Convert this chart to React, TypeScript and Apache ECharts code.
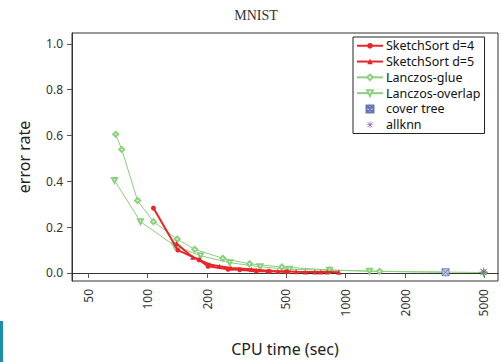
import React, { useEffect, useRef } from "react";
import * as echarts from "echarts";

const xTicks = [50, 100, 200, 500, 1000, 2000, 5000];
const yTicks = [0, 0.2, 0.4, 0.6, 0.8, 1.0];

const sketch4Time = [107, 142, 182, 202, 255, 292, 354, 413, 501];
const sketch4Err = [0.283, 0.1, 0.057, 0.029, 0.016, 0.014, 0.008, 0.007, 0.005];

const sketch5Time = [140, 169, 206, 231, 264, 334, 405, 455, 511, 563, 626, 700, 750, 808, 925];
const sketch5Err = [0.129, 0.069, 0.037, 0.029, 0.022, 0.016, 0.01, 0.007, 0.006, 0.005, 0.004, 0.004, 0.004, 0.004, 0.003];

const glueTime = [69, 74, 89, 107, 141, 173, 240, 327, 477, 830, 1486, 5000];
const glueErr = [0.605, 0.539, 0.316, 0.224, 0.148, 0.103, 0.064, 0.04, 0.026, 0.013, 0.007, 0.002];

const overlapTime = [68, 92, 137, 185, 260, 370, 520, 830, 1320, 3200];
const overlapErr = [0.404, 0.224, 0.119, 0.075, 0.045, 0.027, 0.016, 0.012, 0.008, 0.003];

const coverTime = [3200];
const coverErr = [0.003];

const allknnTime = [4980];
const allknnErr = [0.004];

const seriesNames = ["SketchSort d=4", "SketchSort d=5", "Lanczos-glue", "Lanczos-overlap", "cover tree", "allknn"];

const zip = (a: number[], b: number[]) => a.map((v, i) => [v, b[i]]);

const RED = "#e8262a";
const GREEN = "#8ccf7c";

const ASTERISK =
  "path://M4.55,0L5.45,0L5.45,10L4.55,10Z M0,4.55L10,4.55L10,5.45L0,5.45Z " +
  "M1.82,1.18L8.82,8.18L8.18,8.82L1.18,1.82Z M1.18,8.18L8.18,1.18L8.82,1.82L1.82,8.82Z";

export default function App() {
  const ref = useRef<HTMLDivElement>(null);
  useEffect(() => {
    document.body.style.margin = "0";
    const chart = echarts.init(ref.current!, null, { renderer: "svg" });
    const option: any = {
      animation: false,
      backgroundColor: "#fff",
      grid: {
        left: 72,
        right: 3,
        top: 33,
        bottom: 78,
        show: true,
        borderColor: "#333",
        borderWidth: 1,
        backgroundColor: "transparent",
      },
      graphic: [
        {
          type: "text",
          x: 256,
          y: 15,
          style: {
            text: "MNIST",
            font: "14px 'Liberation Serif'",
            fill: "#333",
            textAlign: "center",
            textVerticalAlign: "middle",
          },
        },
        {
          type: "rect",
          shape: { x: 0, y: 321, width: 3, height: 41 },
          style: { fill: "#1a90aa" },
        },
      ],
      legend: {
        data: seriesNames,
        orient: "vertical",
        left: 353,
        top: 37,
        backgroundColor: "#fff",
        borderColor: "#222",
        borderWidth: 1,
        borderRadius: 0,
        padding: [2, 4, 2, 3],
        itemGap: 2.3,
        itemWidth: 26,
        itemHeight: 7,
        textStyle: {
          fontFamily: "Noto Sans",
          fontSize: 12.5,
          color: "#111",
          lineHeight: 13.5,
          padding: [0, 0, 0, -2],
        },
      },
      xAxis: {
        type: "log",
        logBase: 10,
        min: 41.5,
        max: 5890,
        name: "CPU time (sec)",
        nameLocation: "middle",
        nameGap: 60,
        nameTextStyle: { fontFamily: "Noto Sans", fontSize: 16, color: "#222" },
        axisLine: { show: true, lineStyle: { color: "#333" } },
        axisTick: { show: true, length: 5, lineStyle: { color: "#555" }, customValues: xTicks },
        axisLabel: {
          customValues: xTicks,
          rotate: 90,
          margin: 8,
          fontFamily: "Noto Sans",
          fontSize: 12,
          color: "#333",
          formatter: (v: number) => String(Math.round(v)),
        },
        splitLine: { show: false },
        minorTick: { show: false },
      },
      yAxis: {
        type: "value",
        min: -0.035,
        max: 1.047,
        name: "error rate",
        nameLocation: "middle",
        nameGap: 40,
        nameTextStyle: { fontFamily: "Noto Sans", fontSize: 16, color: "#222" },
        axisLine: { show: true, lineStyle: { color: "#333" } },
        axisTick: { show: true, length: 5, lineStyle: { color: "#555" }, customValues: yTicks },
        axisLabel: {
          customValues: yTicks,
          margin: 9,
          fontFamily: "Noto Sans",
          fontSize: 12,
          color: "#333",
          formatter: (v: number) => v.toFixed(1),
        },
        splitLine: { show: false },
      },
      series: [
        {
          name: "Lanczos-glue",
          type: "line",
          data: zip(glueTime, glueErr),
          symbol: "emptyDiamond",
          symbolSize: 5,
          color: GREEN,
          lineStyle: { width: 1, color: GREEN },
          itemStyle: { color: GREEN, borderWidth: 1 },
          z: 2,
        },
        {
          name: "Lanczos-overlap",
          type: "line",
          data: zip(overlapTime, overlapErr),
          symbol: "emptyTriangle",
          symbolRotate: 180,
          symbolSize: 5,
          color: GREEN,
          lineStyle: { width: 1, color: GREEN },
          itemStyle: { color: GREEN, borderWidth: 1 },
          z: 2,
        },
        {
          name: "SketchSort d=4",
          type: "line",
          data: zip(sketch4Time, sketch4Err),
          symbol: "circle",
          symbolSize: 5,
          color: RED,
          lineStyle: { width: 2, color: RED },
          itemStyle: { color: RED },
          z: 3,
        },
        {
          name: "SketchSort d=5",
          type: "line",
          data: zip(sketch5Time, sketch5Err),
          symbol: "triangle",
          symbolSize: 5,
          color: RED,
          lineStyle: { width: 2, color: RED },
          itemStyle: { color: RED },
          z: 3,
        },
        {
          name: "cover tree",
          type: "scatter",
          data: zip(coverTime, coverErr),
          symbol: "path://M0,0L8,0L8,8L0,8Z M0,0L8,8 M0,8L8,0",
          symbolSize: 7,
          color: "#5a68b0",
          itemStyle: { color: "#c4cbec", borderColor: "#4a58a8", borderWidth: 0.8 },
          z: 4,
        },
        {
          name: "allknn",
          type: "scatter",
          data: zip(allknnTime, allknnErr),
          symbol: ASTERISK,
          symbolSize: 9,
          color: "#6b4fa0",
          itemStyle: { color: "#6b4fa0", borderWidth: 0 },
          z: 4,
        },
      ],
    };
    chart.setOption(option);
    return () => chart.dispose();
  }, []);
  return <div ref={ref} style={{ width: 501, height: 362 }} />;
}
